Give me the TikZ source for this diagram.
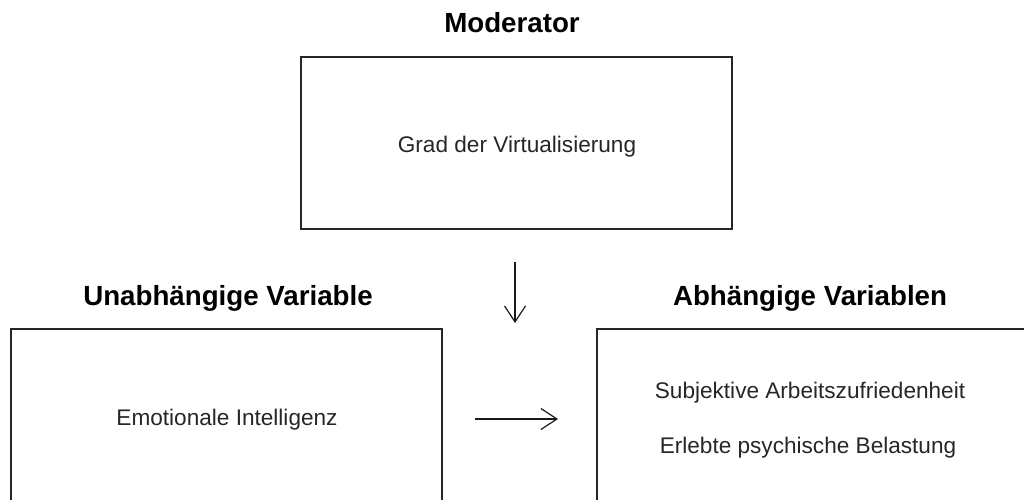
\documentclass[tikz,border=0pt]{standalone}
\usepackage{fontspec}
\setmainfont{Liberation Sans}
\usetikzlibrary{arrows.meta}
\begin{document}
\begin{tikzpicture}[x=1pt,y=-1pt,
 box/.style={draw=black!85,line width=1.4pt,inner sep=0pt},
 ttl/.style={font=\bfseries\fontsize{27.7}{30}\selectfont,anchor=base,inner sep=0pt},
 txt/.style={font=\fontsize{22.6}{26}\selectfont,anchor=base,inner sep=0pt,text=black!85},
 arr/.style={line width=1.2pt,draw=black!90,-{Straight Barb[length=16pt,width=21pt,line width=1.2pt]}}]
\useasboundingbox (0,0) rectangle (1024,499);
\clip (0,0) rectangle (1024,499);
% titles
\node[ttl] (tmod) at (512,32) {Moderator};
\node[ttl] (tiv) at (228,305) {Unabhängige Variable};
\node[ttl] (tdv) at (810,305) {Abhängige Variablen};
% boxes
\node[box,minimum width=431pt,minimum height=172pt] (mod) at (516.5,143) {};
\node[box,minimum width=431pt,minimum height=200pt] (iv) at (226.5,429) {};
\node[box,minimum width=443pt,minimum height=200pt] (dv) at (818.5,429) {};
% box texts
\node[txt] (grad) at (517,152) {Grad der Virtualisierung};
\node[txt] (emo) at (227,425) {Emotionale Intelligenz};
\node[txt] (sub) at (810,398) {Subjektive Arbeitszufriedenheit};
\node[txt] (erl) at (808,453) {Erlebte psychische Belastung};
% arrows
\coordinate (m1) at (515,262);
\coordinate (m2) at (515,323);
\coordinate (r1) at (475,419);
\coordinate (r2) at (558,419);
\draw[arr] (m1) -- (m2);
\draw[arr] (r1) -- (r2);
\end{tikzpicture}
\end{document}
